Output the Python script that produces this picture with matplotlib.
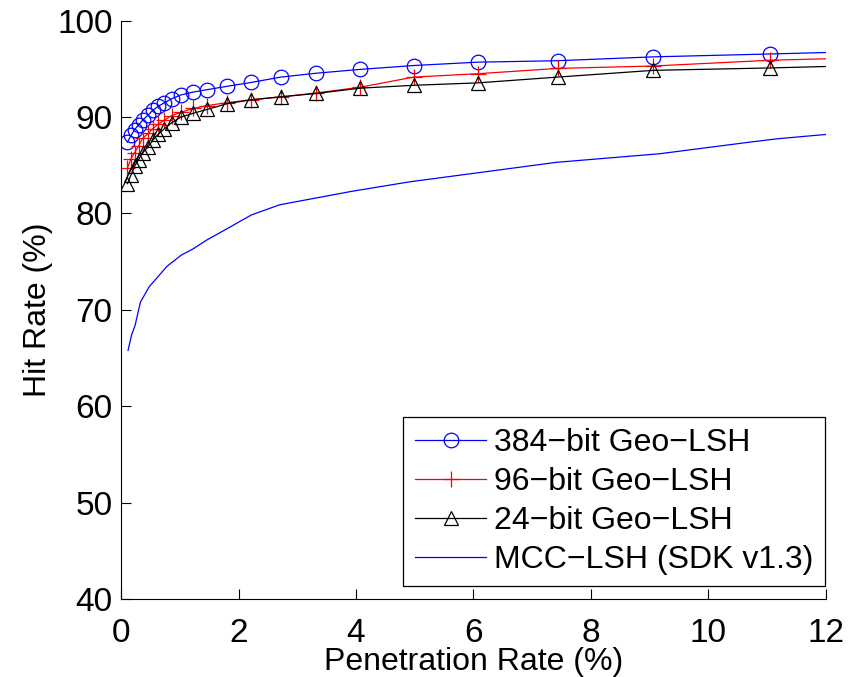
import numpy as np
import matplotlib
matplotlib.use('Agg')
import matplotlib.pyplot as plt

# penetration rate (%) where the Geo-LSH curves were sampled (last point has no marker)
pen_geo = [0.11, 0.17, 0.23, 0.30, 0.37, 0.46, 0.54, 0.63, 0.74, 0.86, 1.02,
           1.23, 1.47, 1.81, 2.22, 2.72, 3.32, 4.07, 4.98, 6.07, 7.43, 9.06,
           11.05, 12.0]
hit_384 = [87.4, 88.1, 88.7, 89.2, 89.7, 90.2, 90.7, 91.1, 91.5, 91.9, 92.3,
           92.6, 92.85, 93.2, 93.6, 94.15, 94.55, 94.95, 95.35, 95.7, 95.85,
           96.25, 96.55, 96.7]
hit_96 = [84.7, 85.7, 86.3, 87.0, 87.8, 88.3, 88.8, 89.25, 89.7, 90.15, 90.5,
          90.9, 91.2, 91.5, 91.8, 92.1, 92.5, 93.1, 94.15, 94.5, 95.05, 95.3,
          95.9, 96.05]
hit_24 = [83.1, 84.0, 84.9, 85.6, 86.3, 86.9, 87.6, 88.2, 88.8, 89.4, 90.0,
          90.4, 90.8, 91.4, 91.8, 92.1, 92.45, 93.0, 93.3, 93.55, 94.15, 94.85,
          95.1, 95.25]

# MCC-LSH reference curve
pen_mcc = [0.12, 0.18, 0.24, 0.33, 0.48, 0.78, 1.03, 1.22, 1.46, 1.80, 2.22,
           2.70, 3.05, 3.93, 4.93, 6.17, 7.40, 9.17, 10.70, 11.17, 12.0]
hit_mcc = [65.8, 67.4, 68.4, 70.8, 72.4, 74.5, 75.7, 76.3, 77.25, 78.4, 79.85,
           80.9, 81.3, 82.3, 83.3, 84.3, 85.3, 86.2, 87.4, 87.75, 88.2]

labels = ['384\u2212bit Geo\u2212LSH', '96\u2212bit Geo\u2212LSH',
          '24\u2212bit Geo\u2212LSH', 'MCC\u2212LSH (SDK v1.3)']

plt.rcParams['font.family'] = ['Liberation Sans', 'DejaVu Sans']
plt.rcParams['font.size'] = 24

fig = plt.figure(figsize=(8.57, 6.77), dpi=100)
ax = fig.add_axes([0.1412, 0.1152, 0.8226, 0.8542])

mk = slice(0, len(pen_geo) - 1)
ax.plot(pen_geo, hit_384, color='b', lw=0.9, marker='o', ms=10.5,
        mfc='none', mec='b', mew=0.9, markevery=mk, label=labels[0])
ax.plot(pen_geo, hit_96, color='r', lw=0.9, marker='+', ms=12,
        mec='r', mew=0.9, markevery=mk, label=labels[1])
ax.plot(pen_geo, hit_24, color='k', lw=0.9, marker='^', ms=10.5,
        mfc='none', mec='k', mew=0.9, markevery=mk, label=labels[2])
ax.plot(pen_mcc, hit_mcc, color='b', lw=0.9, label=labels[3])

ax.set_xlim(0, 12)
ax.set_ylim(40, 100)
ax.set_xticks(range(0, 13, 2))
ax.set_yticks(range(40, 101, 10))
ax.set_xlabel('Penetration Rate (%)', labelpad=-2, fontsize=23)
ax.set_ylabel('Hit Rate (%)', labelpad=3, fontsize=23)

ax.spines['top'].set_visible(False)
ax.spines['right'].set_visible(False)
ax.tick_params(direction='in', length=7, width=0.8, labelsize=24)
ax.tick_params(axis='x', pad=14)
ax.tick_params(axis='y', pad=6)

leg = ax.legend(loc='lower right', bbox_to_anchor=(0.9986, 0.0225),
                fancybox=False, framealpha=1, edgecolor='k',
                handlelength=2.25, handletextpad=0.25, labelspacing=0.28,
                borderpad=0.35, borderaxespad=0, fontsize=23)
leg.get_frame().set_linewidth(0.9)

fig.savefig('out.png', dpi=100)
